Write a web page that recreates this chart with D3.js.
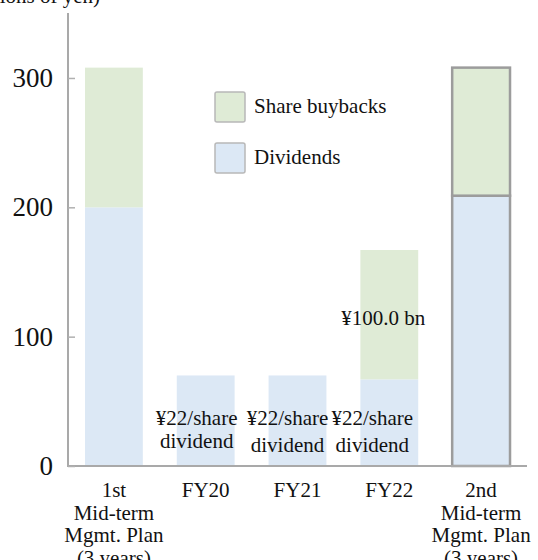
<!DOCTYPE html>
<html lang="en">
<head>
<meta charset="UTF-8">
<title>Shareholder returns</title>
<script src="https://cdn.jsdelivr.net/npm/d3@7"></script>
<style>
  body { margin: 0; background: #fff; }
</style>
</head>
<body>
<script>
// values in billions of yen
var categories = ["1st", "FY20", "FY21", "FY22", "2nd"];
var catLabels = [
    ["1st", "Mid-term", "Mgmt. Plan", "(3 years)"],
    ["FY20"], ["FY21"], ["FY22"],
    ["2nd", "Mid-term", "Mgmt. Plan", "(3 years)"]
];
var dividends = [200, 70, 70, 67, 209];
var buybacks = [108, 0, 0, 100, 99];
var yTicks = [0, 100, 200, 300];
var seriesNames = ["Share buybacks", "Dividends"];
var barNotes = [null, ["¥22/share", "dividend"], ["¥22/share", "dividend"], ["¥22/share", "dividend"], null];
var buybackNote = "¥100.0 bn";

var W = 538, H = 560;
var serif = "'Liberation Serif', 'DejaVu Serif', serif";
var svg = d3.select("body").append("svg").attr("width", W).attr("height", H)
    .attr("font-family", serif);

var x = d3.scaleBand().domain(categories).range([68, 527]).paddingInner(0.37).paddingOuter(0.185);
var y = d3.scaleLinear().domain([0, 350]).range([466, 13.3]);

var rows = categories.map(function (c, i) { return {cat: c, dividends: dividends[i], buybacks: buybacks[i]}; });
var stack = d3.stack().keys(["dividends", "buybacks"])(rows);
var fills = {dividends: "#dce8f5", buybacks: "#dfebd6"};

// bars
svg.append("g").selectAll("g").data(stack).join("g")
    .attr("fill", function (s) { return fills[s.key]; })
    .selectAll("rect").data(function (s) { return s; }).join("rect")
    .attr("x", function (d) { return x(d.data.cat); })
    .attr("y", function (d) { return y(d[1]); })
    .attr("width", x.bandwidth())
    .attr("height", function (d) { return y(d[0]) - y(d[1]); })
    .attr("stroke", function (d) { return d.data.cat == "2nd" ? "#9c9c9c" : "none"; })
    .attr("stroke-width", 2.5);

// axes lines
svg.append("line").attr("x1", 68).attr("x2", 68).attr("y1", 13).attr("y2", y(0))
    .attr("stroke", "#a9a9a9").attr("stroke-width", 2);
svg.append("line").attr("x1", 67).attr("x2", 527).attr("y1", y(0)).attr("y2", y(0))
    .attr("stroke", "#a9a9a9").attr("stroke-width", 2);

var yAxis = svg.append("g").attr("transform", "translate(68,0)")
    .call(d3.axisRight(y).tickValues(yTicks).tickSize(7).tickFormat(""));
yAxis.select(".domain").remove();
yAxis.selectAll("line").attr("stroke", "#b0b0b0").attr("stroke-width", 1.5);

function addText(sel) {
    return sel.append("text").attr("font-family", serif).attr("fill", "#111").attr("font-size", 21);
}

svg.append("g").selectAll("text").data(yTicks).join("text")
    .attr("font-family", serif).attr("fill", "#111")
    .attr("x", 53).attr("y", function (d) { return y(d) + 9; })
    .attr("text-anchor", "end").attr("font-size", 27)
    .text(function (d) { return d; });

// unit label, clipped at the top of the picture
addText(svg).attr("x", 100).attr("y", 3).attr("text-anchor", "end").text("(billions of yen)");

// category labels
categories.forEach(function (c, i) {
    var t = addText(svg).attr("x", x(c) + x.bandwidth() / 2).attr("y", 497).attr("text-anchor", "middle");
    catLabels[i].forEach(function (line, j) {
        t.append("tspan").attr("x", x(c) + x.bandwidth() / 2).attr("dy", j == 0 ? 0 : 22.5).text(line);
    });
});

// notes inside bars (sit a little left of the bar centre)
var noteShift = {FY20: -9, FY21: -10, FY22: -17};
categories.forEach(function (c, i) {
    if (!barNotes[i]) return;
    var cx = x(c) + x.bandwidth() / 2 + noteShift[c];
    var t = addText(svg).attr("text-anchor", "middle");
    t.append("tspan").attr("x", cx).attr("y", y(0) - 41).text(barNotes[i][0]);
    t.append("tspan").attr("x", cx).attr("y", y(0) - (i == 1 ? 18 : 14)).text(barNotes[i][1]);
});
addText(svg).attr("x", x("FY22") + x.bandwidth() / 2 - 6)
    .attr("y", y(dividends[3] + buybacks[3] / 2) + 10)
    .attr("text-anchor", "middle").text(buybackNote);

// legend
var legend = svg.append("g").attr("transform", "translate(215,92)");
seriesNames.forEach(function (name, i) {
    var g = legend.append("g").attr("transform", "translate(0," + (i * 51) + ")");
    g.append("rect").attr("width", 30).attr("height", 30).attr("rx", 2)
        .attr("fill", i == 0 ? fills.buybacks : fills.dividends)
        .attr("stroke", "#b8b8b8").attr("stroke-width", 1.5);
    addText(g).attr("x", 39).attr("y", 21).text(name);
});
</script>
</body>
</html>
